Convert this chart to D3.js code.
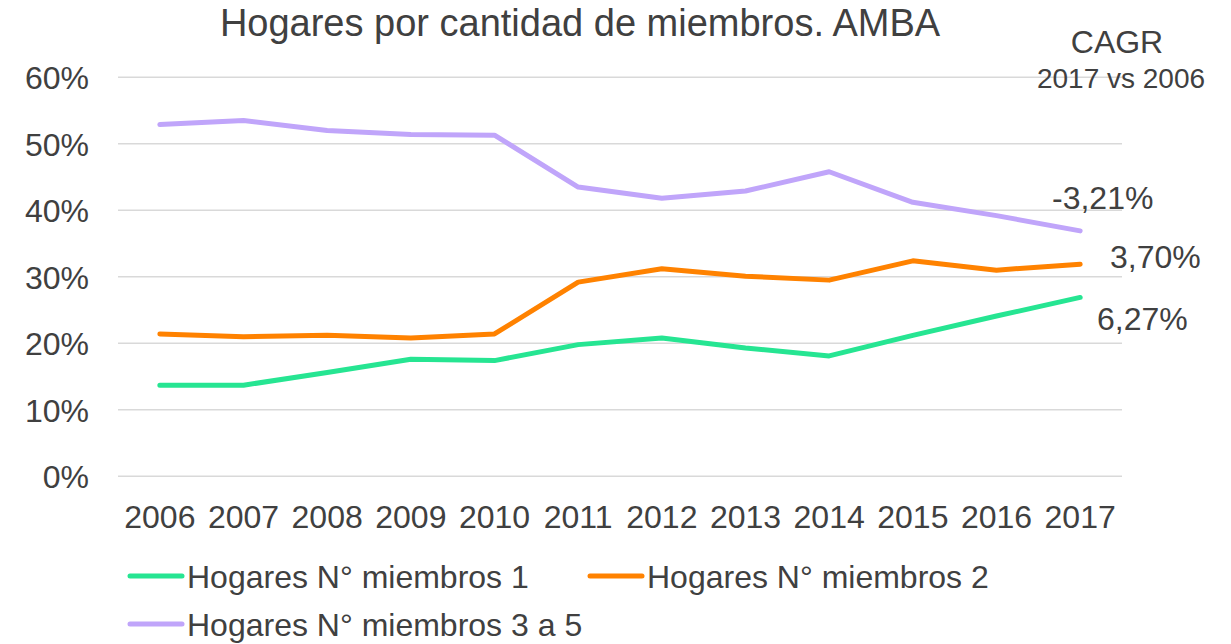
<!DOCTYPE html>
<html>
<head>
<meta charset="utf-8">
<script src="https://cdn.jsdelivr.net/npm/d3@7"></script>
<style>
  body { margin: 0; background: #fff; }
  text { font-family: "Liberation Sans", Arial, sans-serif; fill: #404040; }
</style>
</head>
<body>
<div id="chart"></div>
<script>
// data
var vYears = ["2006", "2007", "2008", "2009", "2010", "2011", "2012", "2013", "2014", "2015", "2016", "2017"];
var vOne = [13.7, 13.7, 15.6, 17.6, 17.4, 19.8, 20.8, 19.3, 18.1, 21.2, 24.1, 26.9];
var vTwo = [21.4, 21.0, 21.2, 20.8, 21.4, 29.2, 31.2, 30.1, 29.5, 32.4, 31.0, 31.9];
var vThreeFive = [52.9, 53.5, 52.0, 51.4, 51.3, 43.5, 41.8, 42.9, 45.8, 41.2, 39.2, 36.9];
var vSeriesNames = ["Hogares N° miembros 1", "Hogares N° miembros 2", "Hogares N° miembros 3 a 5"];
var vCagrLabels = ["6,27%", "3,70%", "-3,21%"];
var vYTicks = [0, 10, 20, 30, 40, 50, 60];

var vColors = ["#26e592", "#ff8200", "#c0a5fa"];
var vSeries = [vOne, vTwo, vThreeFive];

var vWidth = 1231, vHeight = 644;
var vPlot = { left: 118, right: 1122, top: 77.3, bottom: 476.3 };

var svg = d3.select("#chart")
    .append("svg")
    .attr("width", vWidth)
    .attr("height", vHeight);

// scales
var vX = d3.scaleBand()
    .domain(vYears)
    .range([vPlot.left, vPlot.right])
    .padding(0);
var vY = d3.scaleLinear()
    .domain([0, 60])
    .range([vPlot.bottom, vPlot.top]);

// gridlines
svg.append("g")
    .selectAll("line")
    .data(vYTicks)
    .enter()
    .append("line")
    .attr("x1", vPlot.left)
    .attr("x2", vPlot.right)
    .attr("y1", function (d) { return vY(d); })
    .attr("y2", function (d) { return vY(d); })
    .attr("stroke", "#d9d9d9")
    .attr("stroke-width", 1.5);

// y axis labels
var vYAxis = svg.append("g")
    .attr("transform", "translate(" + vPlot.left + ",0)")
    .call(d3.axisLeft(vY).tickValues(vYTicks).tickSize(0).tickPadding(29)
        .tickFormat(function (d) { return d + "%"; }));
vYAxis.select(".domain").remove();
vYAxis.selectAll("text")
    .style("font-size", "32px")
    .attr("fill", "#404040")
    .attr("dy", "0.36em");

// x axis labels
var vXAxis = svg.append("g")
    .attr("transform", "translate(0," + vPlot.bottom + ")")
    .call(d3.axisBottom(vX).tickSize(0).tickPadding(29));
vXAxis.select(".domain").remove();
vXAxis.selectAll("text")
    .style("font-size", "32px")
    .attr("fill", "#404040");

// lines
var vLine = d3.line()
    .x(function (d, i) { return vX(vYears[i]) + vX.bandwidth() / 2; })
    .y(function (d) { return vY(d); });

svg.append("g")
    .selectAll("path")
    .data(vSeries)
    .enter()
    .append("path")
    .attr("d", vLine)
    .attr("fill", "none")
    .attr("stroke", function (d, i) { return vColors[i]; })
    .attr("stroke-width", 5)
    .attr("stroke-linecap", "round")
    .attr("stroke-linejoin", "round");

// CAGR labels
var vCagrPos = [
    { x: 1097, y: 330 },
    { x: 1110, y: 268 },
    { x: 1052, y: 209 }
];
svg.append("g")
    .selectAll("text")
    .data(vCagrLabels)
    .enter()
    .append("text")
    .attr("x", function (d, i) { return vCagrPos[i].x; })
    .attr("y", function (d, i) { return vCagrPos[i].y; })
    .style("font-size", "32px")
    .text(function (d) { return d; });

svg.append("text")
    .attr("x", 1117)
    .attr("y", 53)
    .attr("text-anchor", "middle")
    .style("font-size", "32px")
    .text("CAGR");
svg.append("text")
    .attr("x", 1121)
    .attr("y", 88)
    .attr("text-anchor", "middle")
    .style("font-size", "28px")
    .text("2017 vs 2006");

// title
svg.append("text")
    .attr("x", 580)
    .attr("y", 36)
    .attr("text-anchor", "middle")
    .style("font-size", "38px")
    .text("Hogares por cantidad de miembros. AMBA");

// legend
var vLegendPos = [
    { x: 130, y: 576 },
    { x: 590, y: 576 },
    { x: 130, y: 624 }
];
var vLegend = svg.append("g")
    .selectAll("g")
    .data(vSeriesNames)
    .enter()
    .append("g")
    .attr("transform", function (d, i) {
        return "translate(" + vLegendPos[i].x + "," + vLegendPos[i].y + ")";
    });
vLegend.append("line")
    .attr("x1", 0)
    .attr("x2", 52)
    .attr("stroke", function (d, i) { return vColors[i]; })
    .attr("stroke-width", 5)
    .attr("stroke-linecap", "round");
vLegend.append("text")
    .attr("x", 57)
    .attr("dy", "0.36em")
    .style("font-size", "32px")
    .text(function (d) { return d; });
</script>
</body>
</html>
